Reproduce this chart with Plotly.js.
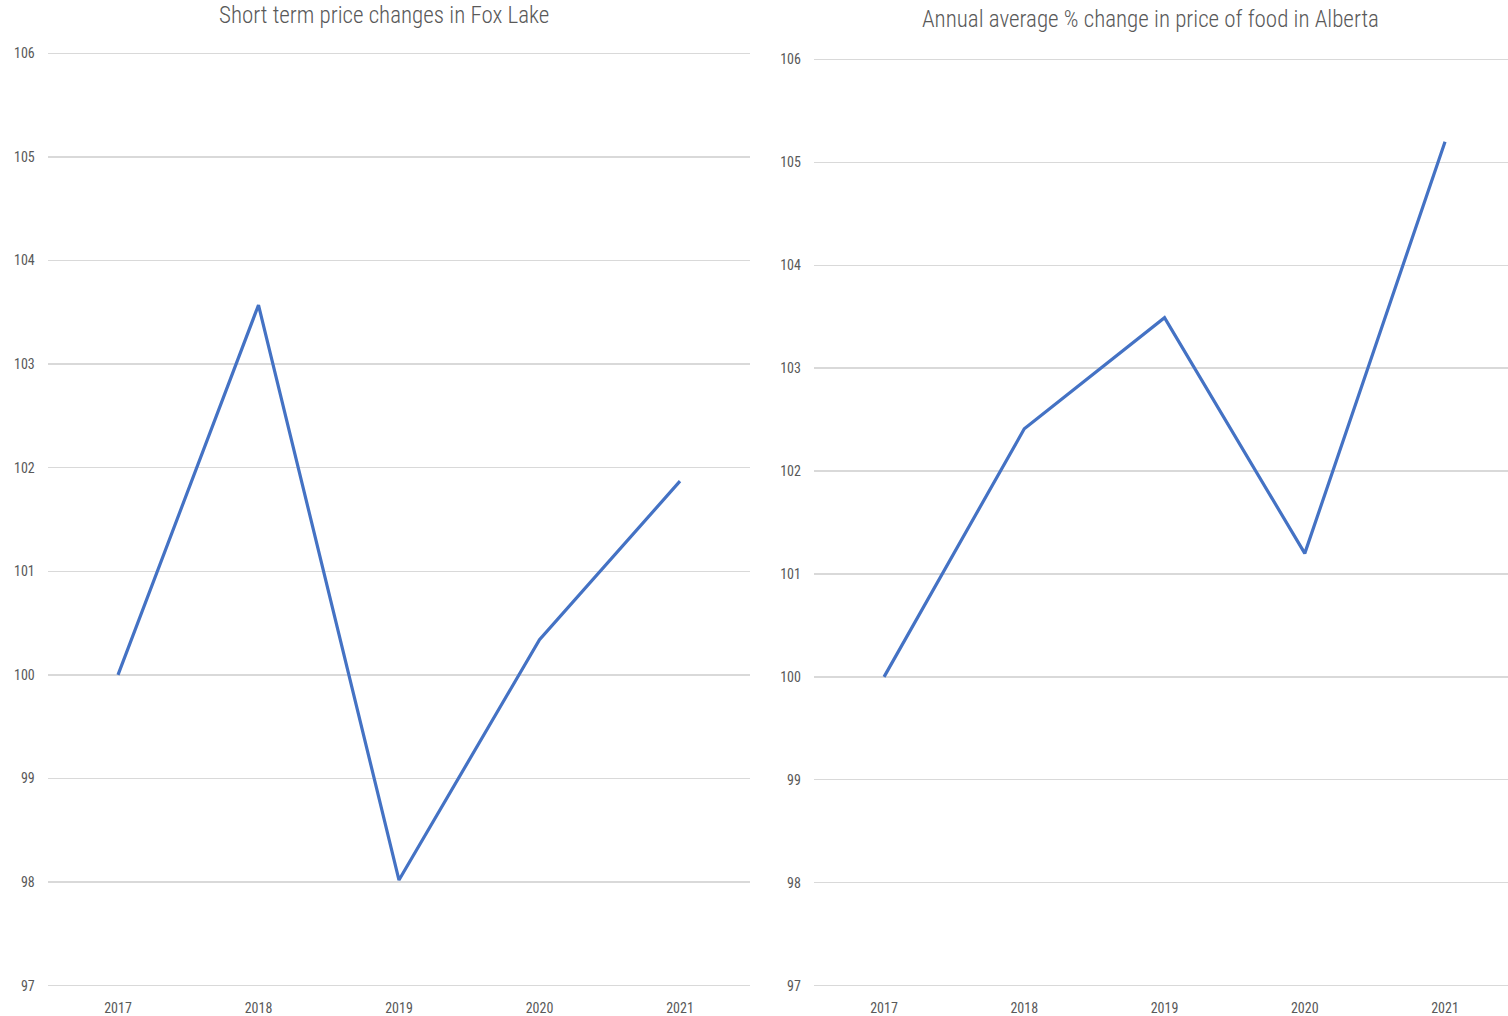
<!DOCTYPE html>
<html>
<head>
<meta charset="utf-8">
<script src="https://cdn.plot.ly/plotly-3.0.1.min.js"></script>
<style>
  html, body { margin: 0; padding: 0; background: #ffffff; overflow: hidden; }
  #chart { width: 1508px; height: 1016px; }
</style>
</head>
<body>
<div id="chart"></div>
<script>
// Years shared by both panels
const years = ['2017', '2018', '2019', '2020', '2021'];

// Price index, Fox Lake (2017 = 100)
const foxLake = [100, 103.57, 98.02, 100.34, 101.87];

// Price index, food in Alberta (2017 = 100)
const alberta = [100, 102.41, 103.49, 101.20, 105.20];

const yTicks = [97, 98, 99, 100, 101, 102, 103, 104, 105, 106];

const titleLeft = 'Short term price changes in Fox Lake';
const titleRight = 'Annual average % change in price of food in Alberta';

const lineColor = '#4472C4';
const textColor = '#595959';
const gridColor = '#d9d9d9';
const fontFamily = '"Liberation Sans Narrow", "Arial Narrow", "Roboto Condensed", sans-serif';

const W = 1508, H = 1016;
// a hair of padding so the 97 and 106 gridlines are still drawn
const PAD = 0.012;

function xAxis(domainPx, range) {
  return {
    type: 'category',
    domain: [domainPx[0] / W, domainPx[1] / W],
    range: range,
    showgrid: false,
    zeroline: false,
    showline: false,
    ticks: '',
    ticklabelstandoff: 11,
    tickfont: { family: fontFamily, size: 14, color: textColor },
    fixedrange: true
  };
}

function yAxis(topPx, bottomPx, anchor) {
  const pxPerUnit = (bottomPx - topPx) / 9;
  const top = topPx - PAD * pxPerUnit;
  const bottom = bottomPx + PAD * pxPerUnit;
  return {
    anchor: anchor,
    domain: [1 - bottom / H, 1 - top / H],
    range: [97 - PAD, 106 + PAD],
    tickvals: yTicks,
    ticktext: yTicks.map(String),
    showgrid: true,
    gridcolor: gridColor,
    gridwidth: 1.3,
    zeroline: false,
    showline: false,
    ticks: '',
    ticklabelstandoff: 12,
    tickfont: { family: fontFamily, size: 14, color: textColor },
    fixedrange: true
  };
}

const traces = [
  {
    x: years, y: foxLake, type: 'scatter', mode: 'lines',
    line: { color: lineColor, width: 3.2 },
    xaxis: 'x', yaxis: 'y', hoverinfo: 'skip'
  },
  {
    x: years, y: alberta, type: 'scatter', mode: 'lines',
    line: { color: lineColor, width: 3.2 },
    xaxis: 'x2', yaxis: 'y2', hoverinfo: 'skip'
  }
];

const layout = {
  width: W,
  height: H,
  margin: { l: 0, r: 0, t: 0, b: 0 },
  paper_bgcolor: '#ffffff',
  plot_bgcolor: '#ffffff',
  showlegend: false,
  xaxis: Object.assign(xAxis([47.75, 750.25], [-0.5, 4.5]), { anchor: 'y' }),
  yaxis: yAxis(53.3, 985.7, 'x'),
  xaxis2: Object.assign(xAxis([813.9, 1508], [-0.5, 4.449]), { anchor: 'y2' }),
  yaxis2: yAxis(59.3, 985.7, 'x2'),
  annotations: [
    {
      text: titleLeft, xref: 'paper', yref: 'paper',
      x: 384 / W, y: 1 - 16 / H, xanchor: 'center', yanchor: 'middle',
      showarrow: false,
      font: { family: fontFamily, size: 23, color: textColor, weight: 300 }
    },
    {
      text: titleRight, xref: 'paper', yref: 'paper',
      x: 1150 / W, y: 1 - 20 / H, xanchor: 'center', yanchor: 'middle',
      showarrow: false,
      font: { family: fontFamily, size: 23, color: textColor, weight: 300 }
    }
  ]
};

Plotly.newPlot('chart', traces, layout, { staticPlot: true, displayModeBar: false });
</script>
</body>
</html>
